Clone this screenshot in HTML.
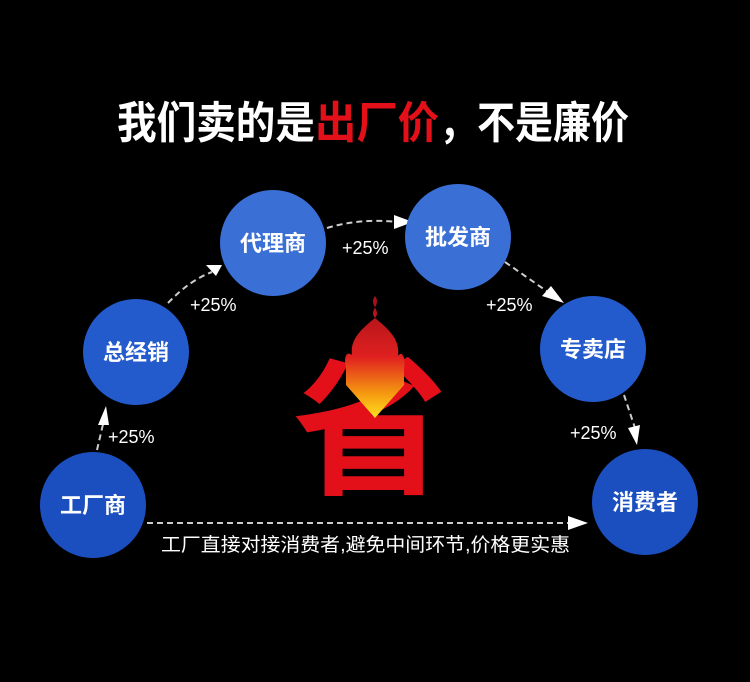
<!DOCTYPE html>
<html><head><meta charset="utf-8"><style>
html,body{margin:0;padding:0;background:#000;width:750px;height:682px;overflow:hidden}
svg text{font-family:"Liberation Sans","Noto Sans CJK SC",sans-serif}
</style></head><body>
<svg width="750" height="682" viewBox="0 0 750 682" xmlns="http://www.w3.org/2000/svg">
<defs>
<linearGradient id="fl" x1="0" y1="0" x2="0" y2="1">
<stop offset="0" stop-color="#a01018"/><stop offset="0.5" stop-color="#e02020"/><stop offset="0.8" stop-color="#f59a10"/><stop offset="1" stop-color="#ffe020"/>
</linearGradient>
</defs>
<text x="117" y="138" font-size="44" font-weight="bold" fill="#fff" textLength="198" lengthAdjust="spacingAndGlyphs">我们卖的是</text>
<text x="315" y="138" font-size="44" font-weight="bold" fill="#e3101a" textLength="124" lengthAdjust="spacingAndGlyphs">出厂价</text>
<text x="439" y="138" font-size="44" font-weight="bold" fill="#fff" textLength="190" lengthAdjust="spacingAndGlyphs">，不是廉价</text>

<g stroke="#ccc" stroke-width="2" stroke-dasharray="6,4" fill="none">
<path d="M97 450 L104 420"/>
<path d="M168 303 Q190 280 212 272"/>
<path d="M327 228 Q360 218 398 222"/>
<path d="M505 262 L548 292"/>
<path d="M624 395 L635 428"/>
<path d="M147 523 L570 523"/>
</g>
<g fill="#fff">
<polygon points="98,425 109,425 106,406"/>
<polygon points="206,265 216,276 222,265"/>
<polygon points="394,215 394,229 413,222"/>
<polygon points="542,296 551,286 564,303"/>
<polygon points="628,428 640,425 637,445"/>
<polygon points="568,516 568,530 588,523"/>
</g>

<circle cx="93" cy="505" r="53" fill="#1b4fbf"/>
<circle cx="136" cy="352" r="53" fill="#245bcc"/>
<circle cx="273" cy="243" r="53" fill="#3a6fd6"/>
<circle cx="458" cy="237" r="53" fill="#3a6fd6"/>
<circle cx="593" cy="349" r="53" fill="#245bcc"/>
<circle cx="645" cy="502" r="53" fill="#1b4fbf"/>
<g fill="#fff" font-size="22" font-weight="bold" text-anchor="middle">
<text x="93" y="513">工厂商</text>
<text x="136" y="360">总经销</text>
<text x="273" y="251">代理商</text>
<text x="458" y="245">批发商</text>
<text x="593" y="357">专卖店</text>
<text x="645" y="510">消费者</text>
</g>
<g fill="#fff" font-size="18">
<text x="108" y="443">+25%</text>
<text x="190" y="311">+25%</text>
<text x="342" y="254">+25%</text>
<text x="486" y="311">+25%</text>
<text x="570" y="439">+25%</text>
</g>
<text x="161" y="551" fill="#fff" font-size="19" textLength="409" lengthAdjust="spacingAndGlyphs">工厂直接对接消费者,避免中间环节,价格更实惠</text>

<text x="370" y="482" text-anchor="middle" font-size="155" font-weight="bold" fill="#e3101a" font-family="Noto Serif CJK SC, serif">省</text>
<path d="M375 296 C368 305 382 310 375 318 C360 330 350 340 352 355 C345 350 344 360 346 368 L346 385 L375 418 L404 385 L404 368 C406 358 402 350 398 356 C400 340 390 330 375 318 C368 310 382 305 375 296 Z" fill="url(#fl)"/>
</svg>
</body></html>
